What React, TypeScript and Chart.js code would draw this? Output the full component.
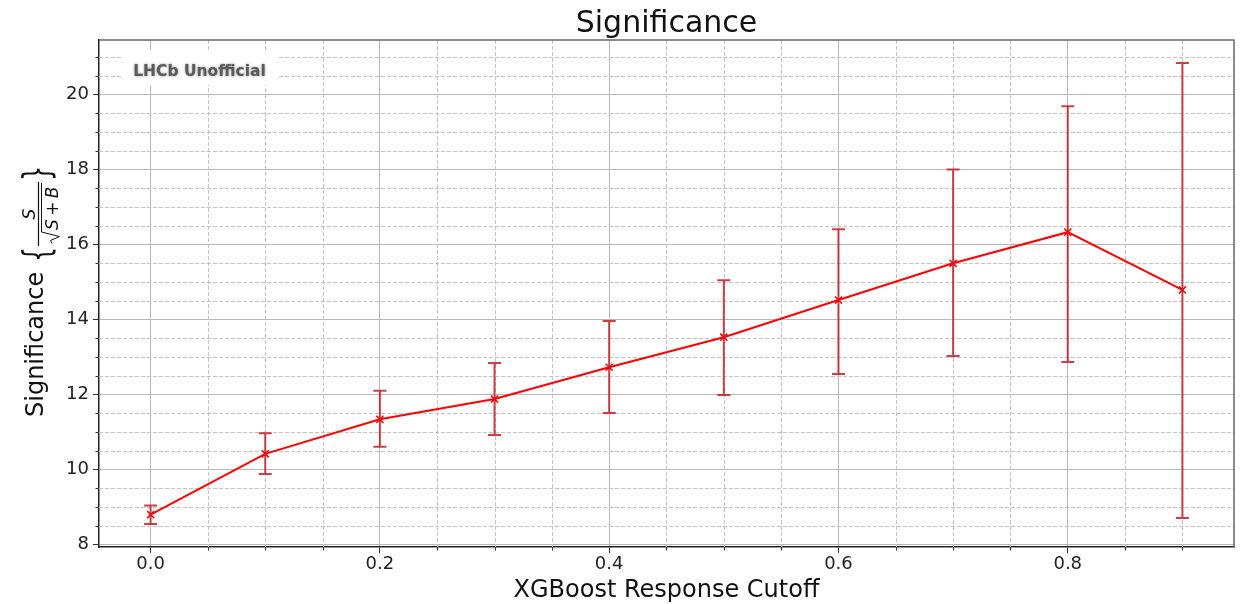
import React, { useEffect, useRef } from 'react';
import { Chart, registerables } from 'chart.js';

Chart.register(...registerables);

const cutoffs = [0.0, 0.1, 0.2, 0.3, 0.4, 0.5, 0.6, 0.7, 0.8, 0.9];
const significance = [8.8, 10.42, 11.34, 11.88, 12.73, 13.53, 14.52, 15.5, 16.33, 14.79];
const sigLower = [8.55, 9.88, 10.61, 10.92, 11.51, 11.99, 12.55, 13.03, 12.87, 8.71];
const sigUpper = [9.04, 10.97, 12.1, 12.84, 13.96, 15.05, 16.41, 18.0, 19.69, 20.84];
const xMajorTicks = [0.0, 0.2, 0.4, 0.6, 0.8];
const yMajorTicks = [8, 10, 12, 14, 16, 18, 20];
const xMinorStep = 0.05;
const yMinorStep = 0.5;
const titleText = 'Significance';
const xLabelText = 'XGBoost Response Cutoff';
const yLabelText = 'Significance';
const watermarkText = 'LHCb Unofficial';

const FONT = '"DejaVu Sans", "Liberation Sans", sans-serif';

function minorValues(min: number, max: number, step: number, majors: number[]) {
  const out: number[] = [];
  const start = Math.ceil(min / step - 1e-9);
  const end = Math.floor(max / step + 1e-9);
  for (let k = start; k <= end; k++) {
    const v = +(k * step).toFixed(6);
    if (!majors.some((m) => Math.abs(m - v) < 1e-6)) out.push(v);
  }
  return out;
}

const decorPlugin = {
  id: 'decor',
  beforeDatasetsDraw(chart: any) {
    const { ctx, chartArea, scales } = chart;
    const xs = scales.x;
    const ys = scales.y;
    ctx.save();
    ctx.strokeStyle = '#c4c4c4';
    ctx.lineWidth = 1;
    ctx.setLineDash([4, 2]);
    for (const v of minorValues(xs.min, xs.max, xMinorStep, xMajorTicks)) {
      const px = Math.round(xs.getPixelForValue(v)) + 0.5;
      ctx.beginPath();
      ctx.moveTo(px, chartArea.top);
      ctx.lineTo(px, chartArea.bottom);
      ctx.stroke();
    }
    for (const v of minorValues(ys.min, ys.max, yMinorStep, yMajorTicks)) {
      const py = Math.round(ys.getPixelForValue(v)) + 0.5;
      ctx.beginPath();
      ctx.moveTo(chartArea.left, py);
      ctx.lineTo(chartArea.right, py);
      ctx.stroke();
    }
    ctx.setLineDash([]);
    // watermark box
    ctx.fillStyle = '#ffffff';
    ctx.fillRect(121, 50, 157, 35);
    ctx.font = `bold 15.5px ${FONT}`;
    ctx.textAlign = 'center';
    ctx.textBaseline = 'alphabetic';
    ctx.shadowColor = 'rgba(60,60,60,0.6)';
    ctx.shadowBlur = 2.5;
    ctx.fillStyle = '#5a5a5a';
    ctx.fillText(watermarkText, 199.5, 76);
    ctx.restore();
  },
  afterDatasetsDraw(chart: any) {
    const { ctx, scales } = chart;
    const xs = scales.x;
    const ys = scales.y;
    ctx.save();
    ctx.strokeStyle = 'rgba(192,30,42,0.85)';
    ctx.lineWidth = 2;
    for (let i = 0; i < cutoffs.length; i++) {
      const px = xs.getPixelForValue(cutoffs[i]);
      const lo = ys.getPixelForValue(sigLower[i]);
      const hi = ys.getPixelForValue(sigUpper[i]);
      ctx.beginPath();
      ctx.moveTo(px, lo);
      ctx.lineTo(px, hi);
      ctx.moveTo(px - 6.5, lo);
      ctx.lineTo(px + 6.5, lo);
      ctx.moveTo(px - 6.5, hi);
      ctx.lineTo(px + 6.5, hi);
      ctx.stroke();
    }
    ctx.restore();
  },
  afterDraw(chart: any) {
    const { ctx, chartArea, scales } = chart;
    const xs = scales.x;
    const ys = scales.y;
    ctx.save();
    // top/right spines
    ctx.strokeStyle = '#666666';
    ctx.lineWidth = 1.5;
    ctx.beginPath();
    ctx.moveTo(chartArea.left, chartArea.top);
    ctx.lineTo(chartArea.right, chartArea.top);
    ctx.lineTo(chartArea.right, chartArea.bottom);
    ctx.stroke();
    // minor ticks
    ctx.strokeStyle = '#333333';
    ctx.lineWidth = 1;
    for (const v of minorValues(xs.min, xs.max, xMinorStep, xMajorTicks)) {
      const px = Math.round(xs.getPixelForValue(v)) + 0.5;
      ctx.beginPath();
      ctx.moveTo(px, chartArea.bottom);
      ctx.lineTo(px, chartArea.bottom + 3.5);
      ctx.stroke();
    }
    for (const v of minorValues(ys.min, ys.max, yMinorStep, yMajorTicks)) {
      const py = Math.round(ys.getPixelForValue(v)) + 0.5;
      ctx.beginPath();
      ctx.moveTo(chartArea.left, py);
      ctx.lineTo(chartArea.left - 3.5, py);
      ctx.stroke();
    }
    // title
    ctx.fillStyle = '#111111';
    ctx.textAlign = 'center';
    ctx.textBaseline = 'alphabetic';
    const cx = (chartArea.left + chartArea.right) / 2;
    ctx.font = `30px ${FONT}`;
    ctx.fillText(titleText, cx, 32);
    ctx.font = `24px ${FONT}`;
    ctx.fillText(xLabelText, cx, 597);

    // y label (rotated)
    const cy = (chartArea.top + chartArea.bottom) / 2;
    ctx.translate(43, cy + 123.5);
    ctx.rotate(-Math.PI / 2);
    ctx.textAlign = 'left';
    ctx.font = `24px ${FONT}`;
    ctx.fillText(yLabelText, 0, 0);

    const drawBrace = (ch: string, u: number) => {
      ctx.save();
      ctx.font = `24px ${FONT}`;
      const m = ctx.measureText(ch);
      const asc = m.actualBoundingBoxAscent;
      const desc = m.actualBoundingBoxDescent;
      const s = 35 / (asc + desc);
      ctx.translate(u, -5);
      ctx.scale(1, s);
      ctx.textAlign = 'left';
      ctx.fillText(ch, 0, (asc - desc) / 2);
      ctx.restore();
    };
    drawBrace('{', 155);
    drawBrace('}', 236);

    // fraction
    ctx.textAlign = 'center';
    ctx.font = `italic 17px ${FONT}`;
    ctx.fillText('S', 203, -8);
    ctx.strokeStyle = '#111111';
    ctx.lineWidth = 1.2;
    ctx.beginPath();
    ctx.moveTo(171, -4.5);
    ctx.lineTo(235, -4.5);
    ctx.stroke();
    // radical
    ctx.lineWidth = 1;
    ctx.beginPath();
    ctx.moveTo(173.5, 9);
    ctx.lineTo(176.5, 7.5);
    ctx.lineTo(180.5, 16.5);
    ctx.lineTo(185, -1.5);
    ctx.lineTo(234, -1.5);
    ctx.stroke();
    ctx.textAlign = 'left';
    ctx.fillText('S\u2009+\u2009B', 187, 14.5);
    ctx.restore();
  },
};

export default function App() {
  const ref = useRef<HTMLCanvasElement | null>(null);

  useEffect(() => {
    if (!ref.current) return;
    const lowAll = Math.min(...sigLower);
    const highAll = Math.max(...sigUpper);
    const yPad = (highAll - lowAll) * 0.05;
    const xPad = (cutoffs[cutoffs.length - 1] - cutoffs[0]) * 0.05;

    const chart = new Chart(ref.current, {
      type: 'line',
      data: {
        datasets: [
          {
            data: cutoffs.map((x, i) => ({ x, y: significance[i] })),
            borderColor: '#ff0000',
            backgroundColor: '#ff0000',
            borderWidth: 2,
            pointStyle: 'crossRot',
            pointRadius: 5,
            pointBorderWidth: 1.5,
            pointBorderColor: '#ff0000',
            tension: 0,
            fill: false,
          },
        ],
      },
      options: {
        animation: false,
        responsive: false,
        devicePixelRatio: 1,
        layout: { padding: { top: 40, right: 8, left: 0, bottom: 0 } },
        plugins: {
          legend: { display: false },
          title: { display: false },
          tooltip: { enabled: false },
        },
        scales: {
          x: {
            type: 'linear',
            min: cutoffs[0] - xPad,
            max: cutoffs[cutoffs.length - 1] + xPad,
            afterBuildTicks: (s: any) => {
              s.ticks = xMajorTicks.map((v) => ({ value: v }));
            },
            afterFit: (s: any) => {
              s.height = 57;
            },
            ticks: {
              callback: (v: any) => Number(v).toFixed(1),
              font: { family: FONT, size: 18 },
              color: '#222222',
              padding: 1,
              maxRotation: 0,
              autoSkip: false,
            },
            grid: {
              color: '#b8b8b8',
              lineWidth: 1,
              tickColor: '#333333',
              tickLength: 6,
              tickWidth: 1,
            },
            border: { color: '#222222', width: 1.5 },
          },
          y: {
            type: 'linear',
            min: lowAll - yPad,
            max: highAll + yPad,
            afterBuildTicks: (s: any) => {
              s.ticks = yMajorTicks.map((v) => ({ value: v }));
            },
            afterFit: (s: any) => {
              s.width = 99;
            },
            ticks: {
              callback: (v: any) => String(v),
              font: { family: FONT, size: 18 },
              color: '#222222',
              padding: 4,
              autoSkip: false,
            },
            grid: {
              color: '#b8b8b8',
              lineWidth: 1,
              tickColor: '#333333',
              tickLength: 6,
              tickWidth: 1,
            },
            border: { color: '#222222', width: 1.5 },
          },
        },
      },
      plugins: [decorPlugin],
    });
    return () => chart.destroy();
  }, []);

  return (
    <div style={{ position: 'absolute', left: 0, top: 0, width: 1242, height: 604, background: '#fff' }}>
      <canvas ref={ref} width={1242} height={604} style={{ display: 'block' }} />
    </div>
  );
}
